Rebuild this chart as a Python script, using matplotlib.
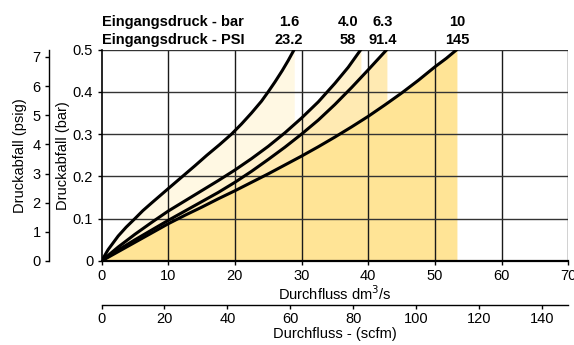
import matplotlib
matplotlib.use("Agg")
import matplotlib.pyplot as plt

plt.rcParams['font.family'] = ['Liberation Sans', 'DejaVu Sans']

# ---- data ----
inlet_bar = ["1.6", "4.0", "6.3", "10"]
inlet_psi = ["23.2", "58", "91.4", "145"]

flow_16 = [0, 1, 2.5, 3.7, 5, 6.2, 7.5, 10, 12, 14, 15.8, 17.7, 19.5, 21, 22.5, 24, 25, 26,
           27.1, 28, 28.9]
drop_16 = [0, 0.027, 0.059, 0.08, 0.1, 0.119, 0.137, 0.171, 0.198, 0.225, 0.25, 0.275, 0.3,
           0.324, 0.35, 0.378, 0.4, 0.423, 0.45, 0.474, 0.5]

flow_40 = [0, 2.5, 5, 7.5, 10, 12.5, 15, 17.5, 20, 22.5, 25, 27.5, 30, 32.5, 35, 37, 38.9]
drop_40 = [0, 0.033, 0.063, 0.091, 0.118, 0.142, 0.166, 0.19, 0.215, 0.242, 0.271, 0.303,
           0.338, 0.376, 0.42, 0.458, 0.5]

flow_63 = [0, 2.5, 5, 7.5, 10, 12.5, 15, 17.5, 20, 22.5, 25, 27.5, 30, 32.5, 35, 37.5, 40, 42.8]
drop_63 = [0, 0.026, 0.05, 0.073, 0.096, 0.118, 0.14, 0.162, 0.186, 0.212, 0.24, 0.269,
           0.30, 0.333, 0.37, 0.41, 0.452, 0.5]

flow_100 = [0, 2.5, 5, 7.5, 10, 12.5, 15, 17.5, 20, 22.5, 25, 27.5, 30, 32.5, 35, 37.5, 40,
            42.5, 45, 47.5, 50, 51.7, 53.3]
drop_100 = [0, 0.022, 0.044, 0.066, 0.088, 0.108, 0.127, 0.147, 0.166, 0.186, 0.206, 0.227,
            0.248, 0.27, 0.293, 0.317, 0.342, 0.369, 0.397, 0.427, 0.459, 0.479, 0.5]

x_ticks = [0, 10, 20, 30, 40, 50, 60, 70]
y_ticks = [0, 0.1, 0.2, 0.3, 0.4, 0.5]
y_tick_labels = ["0", "0.1", "0.2", "0.3", "0.4", "0.5"]
psig_ticks = [0, 1, 2, 3, 4, 5, 6, 7]
scfm_ticks = [0, 20, 40, 60, 80, 100, 120, 140]

BAR_TO_PSI = 14.5038
DM3S_TO_SCFM = 2.11888

# ---- style ----
fill_colors = ["#FFF8E3", "#FFF1CC", "#FFEAB2", "#FFE496"]
label_x = [28.1, 36.9, 42.2, 53.3]

W, H = 574, 345
fig = plt.figure(figsize=(W / 100, H / 100), dpi=100)
left, right, top, bottom = 101.5, 568.3, 49.5, 261.0
ax = fig.add_axes([left / W, 1 - bottom / H, (right - left) / W, (bottom - top) / H])

series = [(flow_16, drop_16), (flow_40, drop_40), (flow_63, drop_63), (flow_100, drop_100)]
for (fx, fy), c in zip(series, fill_colors):
    ax.fill_between(fx, 0, fy, color=c, lw=0, zorder=1)

for v in x_ticks[1:]:
    ax.axvline(v, color="#1a1a1a", lw=1.0, zorder=2)
for v in y_ticks[1:]:
    ax.axhline(v, color="#333333", lw=1.0, zorder=2)

for fx, fy in series:
    ax.plot(fx, fy, color="black", lw=2.2, zorder=3, solid_capstyle="round",
            solid_joinstyle="round")

ax.set_xlim(0, 70)
ax.set_ylim(0, 0.5)
ax.set_xticks(x_ticks)
ax.set_yticks(y_ticks)
ax.set_yticklabels(y_tick_labels)
for s in ["top", "right"]:
    ax.spines[s].set_visible(False)
ax.spines["left"].set_linewidth(1.2)
ax.spines["bottom"].set_linewidth(1.6)
ax.tick_params(axis="both", direction="out", length=3, width=1, labelsize=10.5, pad=3)
ax.set_xlabel("Durchfluss dm$^3$/s", fontsize=10.5, labelpad=1)
ax.set_ylabel("Druckabfall (bar)", fontsize=10.5, labelpad=2)

# psig axis
axp = fig.add_axes(ax.get_position())
axp.patch.set_visible(False)
axp.set_ylim(0, 0.5 * BAR_TO_PSI)
axp.set_yticks(psig_ticks)
axp.set_xticks([])
for s in ["top", "right", "bottom"]:
    axp.spines[s].set_visible(False)
axp.spines["left"].set_position(("outward", 37.8))
axp.spines["left"].set_linewidth(1.0)
axp.tick_params(axis="y", direction="out", length=3, width=1, labelsize=10.5, pad=3)
axp.set_ylabel("Druckabfall (psig)", fontsize=10.5, labelpad=4)

# scfm axis
axs = fig.add_axes(ax.get_position())
axs.patch.set_visible(False)
axs.set_xlim(0, 70 * DM3S_TO_SCFM)
axs.set_xticks(scfm_ticks)
axs.set_yticks([])
for s in ["top", "right", "left"]:
    axs.spines[s].set_visible(False)
axs.spines["bottom"].set_position(("outward", 31.7))
axs.spines["bottom"].set_linewidth(1.0)
axs.tick_params(axis="x", direction="out", length=3, width=1, labelsize=10.5, pad=2)
axs.set_xlabel("Durchfluss - (scfm)", fontsize=10.5, labelpad=1)

# header
ax.text(0, 1.113, "Eingangsdruck - bar", transform=ax.transAxes, fontsize=10.5,
        fontweight="bold", ha="left", va="baseline")
ax.text(0, 1.026, "Eingangsdruck - PSI", transform=ax.transAxes, fontsize=10.5,
        fontweight="bold", ha="left", va="baseline")
tr = ax.get_xaxis_transform()
for xv, b, p in zip(label_x, inlet_bar, inlet_psi):
    ax.text(xv, 1.113, b, transform=tr, fontsize=10.5, fontweight="bold", ha="center", va="baseline")
    ax.text(xv, 1.026, p, transform=tr, fontsize=10.5, fontweight="bold", ha="center", va="baseline")

fig.savefig("out.png", dpi=100)
